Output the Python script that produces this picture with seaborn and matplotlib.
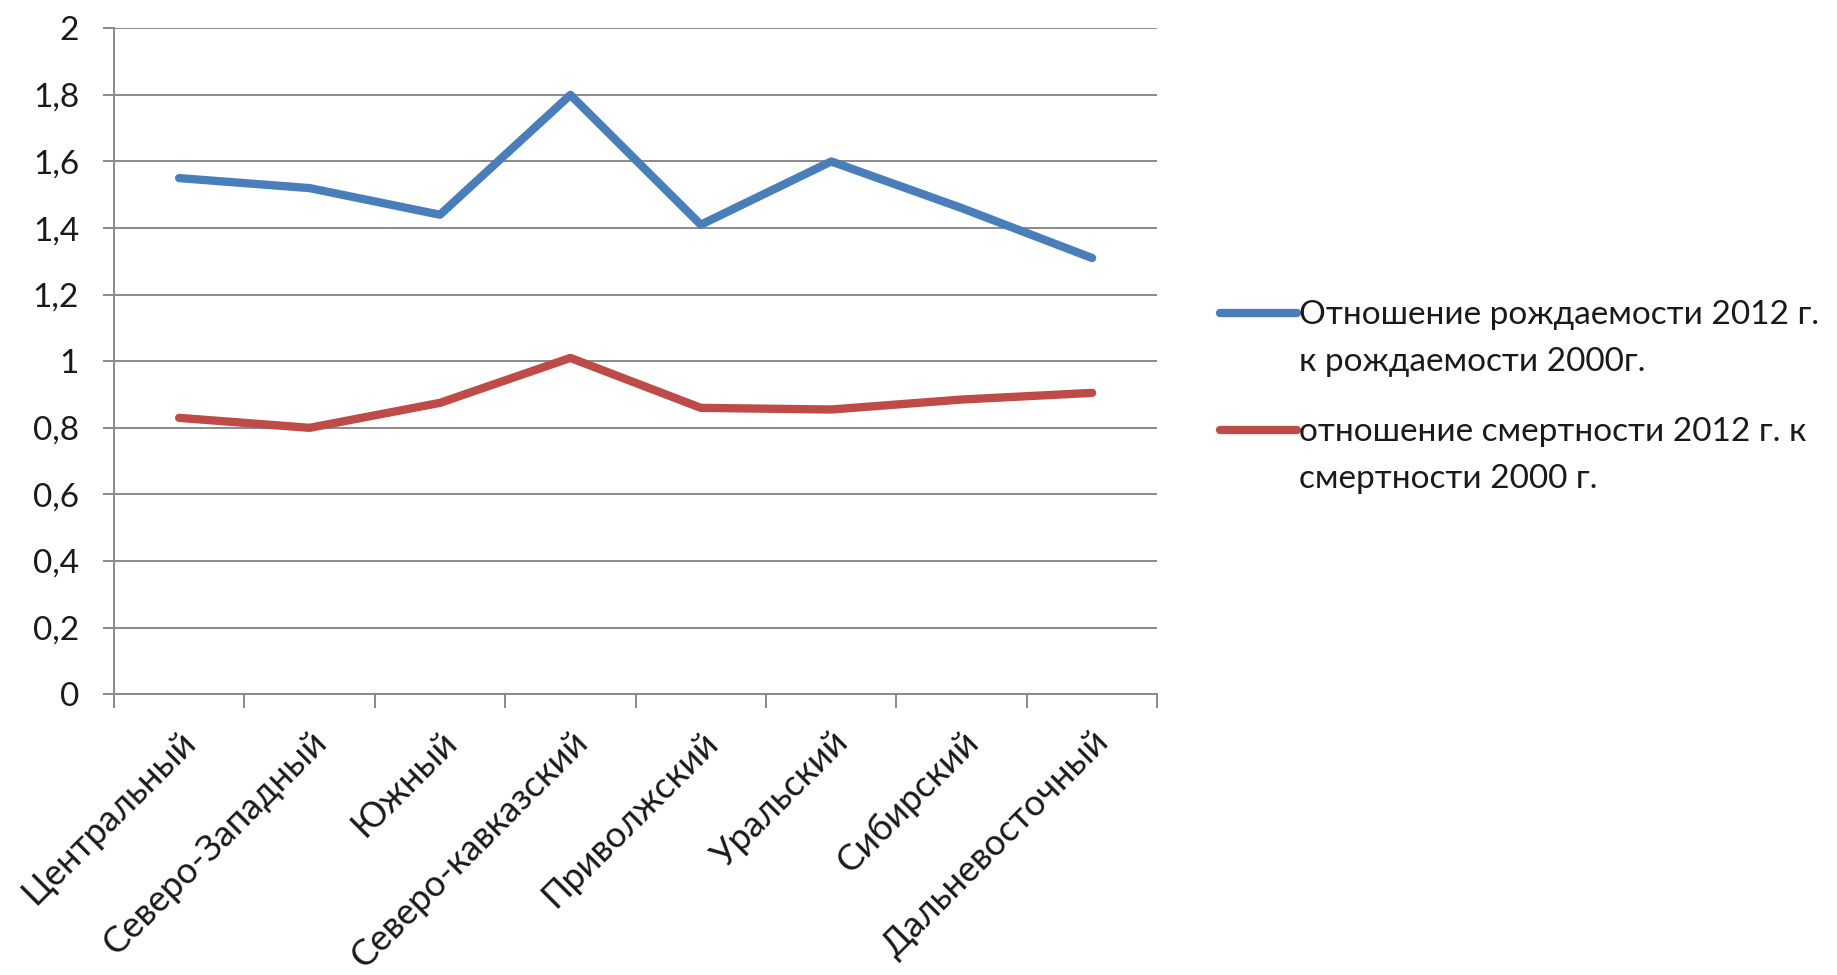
import matplotlib
matplotlib.use("Agg")
import matplotlib.pyplot as plt
import seaborn as sns
import pandas as pd
from matplotlib.ticker import FixedLocator

# федеральные округа
okruga = ['Центральный', 'Северо-Западный', 'Южный', 'Северо-кавказский',
          'Приволжский', 'Уральский', 'Сибирский', 'Дальневосточный']

rozhd = [1.55, 1.52, 1.44, 1.80, 1.41, 1.60, 1.46, 1.31]
smert = [0.83, 0.80, 0.875, 1.01, 0.86, 0.855, 0.885, 0.905]

label_rozhd = 'Отношение рождаемости 2012 г.\nк рождаемости 2000г.'
label_smert = 'отношение смертности 2012 г. к\nсмертности 2000 г.'

y_ticks = [0, 0.2, 0.4, 0.6, 0.8, 1.0, 1.2, 1.4, 1.6, 1.8, 2.0]
y_labels = ['0', '0,2', '0,4', '0,6', '0,8', '1', '1,2', '1,4', '1,6', '1,8', '2']

df = pd.DataFrame({
    'Округ': okruga * 2,
    'Значение': rozhd + smert,
    'Ряд': [label_rozhd] * len(okruga) + [label_smert] * len(okruga),
})

sns.set_theme(style="white")
plt.rcParams['font.family'] = ['Lato', 'DejaVu Sans']
grey = '#8a8a8a'

fig = plt.figure(figsize=(18.37, 9.75), dpi=100)
ax = fig.add_axes([0.062, 0.288, 0.568, 0.683])

sns.lineplot(data=df, x='Округ', y='Значение', hue='Ряд',
             palette=['#4A7EBB', '#BE4B48'], linewidth=6, ax=ax,
             sort=False)

ax.set_xlim(-0.5, len(okruga) - 0.5)
ax.set_ylim(0, 2)
ax.set_yticks(y_ticks)
ax.set_yticklabels(y_labels, fontsize=24, color='#1a1a1a')
ax.yaxis.grid(True, color=grey, linewidth=1.4)
ax.set_axisbelow(True)

ax.set_xticks(range(len(okruga)))
ax.set_xticklabels(okruga, rotation=45, ha='right', rotation_mode='anchor',
                   fontsize=26, color='#1a1a1a')
ax.xaxis.set_minor_locator(FixedLocator([i - 0.5 for i in range(len(okruga) + 1)]))
ax.tick_params(axis='x', which='major', length=0, pad=22)
ax.tick_params(axis='x', which='minor', length=10, width=1.4, color=grey, bottom=True)
ax.tick_params(axis='y', which='major', length=8, width=1.4, color=grey, left=True, pad=17)

ax.set_xlabel('')
ax.set_ylabel('')
for side in ['top', 'right']:
    ax.spines[side].set_visible(False)
for side in ['left', 'bottom']:
    ax.spines[side].set_color(grey)
    ax.spines[side].set_linewidth(1.4)

leg = ax.legend(loc='upper left', bbox_to_anchor=(0.657, 0.706), bbox_transform=fig.transFigure,
                frameon=False, fontsize=24, handlelength=2.3, handletextpad=0.05,
                labelspacing=1.2, borderaxespad=0)
for t in leg.get_texts():
    t.set_color('#1a1a1a')
    t.set_linespacing(1.7)
# маркер легенды на уровне первой строки подписи
for ln in leg.get_lines():
    ln.set_ydata([y + 18.5 for y in ln.get_ydata()])

fig.savefig('out.png', dpi=100)
